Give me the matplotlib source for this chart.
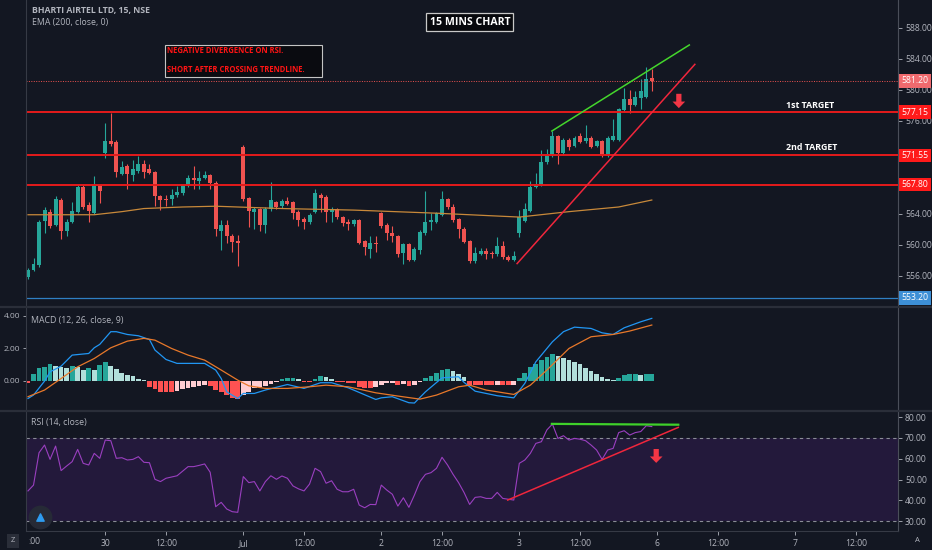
import matplotlib
matplotlib.use("Agg")
import numpy as np
import matplotlib.pyplot as plt
from matplotlib.patches import Rectangle, FancyArrow
from matplotlib.lines import Line2D

plt.rcParams['font.family'] = ['Open Sans', 'DejaVu Sans']

# 15 min candles, 29 Jun 12:00 -> 3 Jul 15:15
opens = [555.9, 556.8, 557.4, 563.1, 564.2, 562.6, 565.8, 561.8, 563.0, 564.3,
         567.5, 565.1, 564.1, 567.7, 571.9, 573.4, 573.3, 569.2, 570.2, 569.0,
         569.5, 570.4, 569.8, 569.4, 566.3, 565.9, 565.9, 566.4, 566.7, 567.7,
         568.6, 568.2, 568.7, 569.0, 568.0, 561.8, 562.6, 561.2, 560.5, 572.7,
         566.0, 564.3, 564.6, 562.6, 564.6, 565.5, 565.0, 565.7, 565.5, 564.3,
         563.4, 562.9, 564.3, 566.5, 566.2, 564.2, 564.6, 563.6, 562.9, 562.7,
         563.2, 560.5, 559.5, 560.3, 564.1, 562.6, 561.6, 561.1, 559.0, 560.1,
         558.1, 559.4, 561.5, 562.9, 563.0, 563.9, 565.9, 564.9, 563.3, 562.1,
         560.5, 557.9, 558.9, 559.2, 558.9, 558.8, 559.9, 558.5, 558.1, 561.6,
         563.1, 564.4, 567.5, 567.8, 570.7, 571.6, 574.0, 571.9, 573.6, 572.8,
         574.0, 573.4, 573.8, 572.8, 573.4, 571.6, 573.6, 573.6, 577.4, 578.8,
         578.1, 579.0, 579.1, 581.5]
highs = [557.0, 558.3, 563.2, 564.9, 564.6, 566.3, 566.0, 563.3, 565.6, 567.7,
         567.8, 565.6, 568.9, 567.9, 575.7, 577.0, 573.6, 570.8, 570.4, 571.0,
         571.5, 571.0, 570.4, 569.6, 566.5, 566.4, 567.2, 567.6, 567.9, 569.0,
         570.2, 569.5, 569.5, 569.2, 568.2, 563.2, 563.2, 561.4, 561.3, 572.9,
         566.2, 564.9, 564.8, 564.9, 568.1, 565.7, 565.9, 566.2, 565.7, 564.5,
         563.6, 564.1, 567.2, 566.7, 566.4, 564.9, 564.8, 563.8, 563.3, 563.4,
         563.4, 560.7, 561.2, 561.2, 564.3, 562.8, 562.4, 561.3, 560.3, 560.3,
         559.7, 561.9, 566.9, 564.1, 564.3, 566.9, 566.1, 565.3, 563.5, 562.3,
         560.7, 559.8, 559.6, 559.6, 559.2, 561.0, 560.5, 558.7, 559.2, 564.5,
         565.4, 568.2, 569.3, 572.3, 572.4, 574.7, 574.2, 573.8, 573.8, 574.0,
         574.4, 575.5, 574.0, 573.6, 573.6, 574.0, 576.2, 577.7, 580.3, 580.0,
         579.8, 581.4, 583.0, 582.7]
lows = [555.6, 556.6, 557.2, 561.5, 562.2, 562.4, 560.8, 561.1, 562.8, 564.1,
        564.6, 563.0, 564.0, 565.4, 571.2, 572.8, 568.8, 569.0, 567.2, 568.2,
        569.3, 568.6, 569.1, 565.0, 564.5, 565.0, 565.1, 566.2, 566.5, 567.5,
        567.2, 567.2, 568.5, 567.2, 561.2, 559.3, 560.2, 559.1, 557.3, 565.7,
        562.3, 562.0, 561.8, 561.6, 564.4, 564.6, 564.8, 565.1, 563.4, 562.5,
        562.0, 562.7, 564.1, 564.2, 563.0, 563.0, 563.3, 562.5, 561.9, 562.5,
        560.1, 558.7, 558.3, 559.1, 562.2, 560.6, 560.4, 558.4, 557.6, 557.9,
        557.9, 558.9, 561.3, 561.9, 562.8, 563.7, 564.7, 563.0, 560.9, 560.2,
        557.7, 557.7, 558.7, 558.2, 558.3, 558.6, 558.2, 557.9, 557.9, 561.0,
        562.9, 564.2, 567.3, 567.6, 570.5, 571.4, 570.5, 571.7, 572.2, 572.6,
        573.1, 573.2, 572.5, 572.6, 571.4, 571.4, 573.4, 573.4, 577.2, 577.0,
        577.9, 577.5, 578.9, 579.8]
closes = [556.8, 557.5, 563.0, 564.5, 562.5, 565.9, 561.8, 563.0, 564.4, 567.5,
          564.9, 564.4, 567.7, 566.9, 573.4, 573.0, 569.4, 570.1, 569.2, 569.8,
          570.4, 569.4, 569.3, 566.3, 565.8, 565.8, 566.4, 566.8, 567.7, 568.6,
          568.4, 568.7, 569.0, 568.0, 562.0, 562.6, 561.1, 560.4, 560.2, 565.9,
          564.4, 564.7, 562.6, 564.7, 565.8, 564.9, 565.7, 565.3, 564.1, 563.2,
          562.9, 563.9, 566.7, 566.1, 564.2, 564.7, 563.6, 562.8, 562.7, 563.2,
          560.3, 559.8, 560.2, 560.1, 562.4, 561.5, 561.1, 558.9, 560.1, 558.1,
          559.5, 561.7, 562.9, 563.2, 564.1, 565.9, 564.9, 563.2, 562.0, 560.4,
          557.9, 559.0, 559.2, 558.8, 558.8, 559.9, 558.4, 558.1, 558.6, 563.6,
          564.6, 567.5, 567.9, 570.7, 571.5, 574.0, 571.9, 573.6, 572.6, 573.8,
          573.3, 573.8, 572.7, 573.4, 571.6, 573.8, 574.0, 577.5, 578.8, 578.1,
          579.1, 579.8, 581.4, 581.2]

ema_idx = [0, 12, 17, 21, 28, 34, 46, 59, 74, 89, 98, 107, 113]
ema_val = [563.9, 563.9, 564.3, 564.7, 564.9, 565.0, 564.7, 564.5, 564.1, 563.6, 564.3, 564.9, 565.8]

levels = [577.15, 571.55, 567.80]
last_price = 581.20
support = 553.20
price_ticks = [556, 560, 564, 576, 580, 584, 588]

macd_idx = [0, 1, 3, 4, 6, 8, 11, 12, 13, 15, 16, 18, 20, 22, 23, 25, 27, 32, 34, 35,
            36, 38, 39, 41, 43, 47, 50, 53, 55, 58, 63, 64, 66, 69, 70, 72, 75, 78, 79, 81,
            85, 88, 90, 92, 95, 97, 99, 102, 104, 106, 108, 111, 113]
macd_val = [-1.09, -0.88, -0.02, 0.55, 0.90, 1.58, 1.68, 2.03, 2.24, 3.02, 3.02, 2.85, 2.77, 2.54, 1.89,
            1.31, 1.07, 1.07, 0.66, 0.14, -0.68, -1.09, -0.78, -0.78, -0.57, -0.23, -0.47, -0.12, -0.12,
            -0.43, -1.15, -1.05, -0.98, -1.35, -1.37, -0.68, 0.18, 0.25, -0.10, -0.64, -0.92, -1.05,
            -0.16, 1.17, 2.40, 3.02, 3.30, 3.22, 2.95, 2.85, 3.26, 3.63, 3.84]
sig_idx = [0, 3, 6, 9, 12, 15, 18, 21, 23, 26, 29, 32, 35, 38, 40, 43, 47, 51, 54, 58,
           63, 67, 71, 74, 78, 80, 83, 88, 91, 94, 98, 102, 106, 109, 113]
sig_val = [-0.98, -0.57, 0.14, 0.86, 1.37, 2.03, 2.44, 2.61, 2.50, 1.99, 1.58, 1.27, 0.66, 0.04,
           -0.31, -0.47, -0.47, -0.37, -0.27, -0.37, -0.74, -0.94, -1.13, -0.88, -0.37, -0.27,
           -0.57, -0.84, -0.27, 0.66, 1.99, 2.71, 2.85, 3.06, 3.43]
hist = [-0.12, 0.41, 0.76, 0.86, 1.05, 0.90, 0.84, 0.80, 0.94, 0.86,
        0.68, 0.76, 0.68, 0.96, 1.13, 0.90, 0.72, 0.49, 0.35, 0.29,
        0.14, 0.06, -0.37, -0.53, -0.68, -0.72, -0.72, -0.64, -0.51, -0.43,
        -0.37, -0.31, -0.27, -0.33, -0.57, -0.72, -0.88, -1.03, -1.15, -0.88,
        -0.68, -0.47, -0.41, -0.31, -0.18, -0.06, 0.10, 0.18, 0.19, 0.10,
        -0.06, -0.08, 0.14, 0.29, 0.21, 0.10, -0.06, -0.10, -0.12, -0.15,
        -0.37, -0.43, -0.47, -0.41, -0.23, -0.16, -0.12, -0.23, -0.22, -0.31,
        -0.23, -0.06, 0.18, 0.31, 0.45, 0.64, 0.72, 0.59, 0.41, 0.21,
        -0.23, -0.27, -0.27, -0.27, -0.29, -0.27, -0.28, -0.28, -0.26, 0.18,
        0.45, 0.86, 1.03, 1.27, 1.48, 1.62, 1.54, 1.42, 1.27, 1.17,
        1.01, 0.80, 0.62, 0.41, 0.21, 0.10, 0.04, 0.18, 0.35, 0.39,
        0.40, 0.35, 0.41, 0.42]

rsi = [44.5, 47.3, 62.9, 66.6, 59.7, 66.1, 54.3, 56.5, 58.6, 64.5,
       57.8, 57.0, 62.6, 60.2, 69.0, 68.7, 60.2, 60.5, 59.4, 59.7,
       61.0, 58.3, 58.1, 50.1, 49.0, 50.6, 51.2, 51.8, 54.0, 56.2,
       56.2, 56.8, 57.5, 53.5, 36.9, 39.0, 35.8, 34.5, 34.2, 51.4,
       48.5, 49.0, 44.5, 49.0, 51.8, 50.1, 51.7, 50.6, 46.9, 45.5,
       44.5, 47.8, 55.4, 53.8, 48.2, 49.4, 45.3, 44.1, 44.1, 45.3,
       37.7, 36.4, 38.0, 37.9, 47.3, 44.9, 42.9, 37.2, 41.2, 36.6,
       42.5, 49.0, 52.5, 53.3, 55.4, 60.7, 57.0, 52.5, 48.5, 43.7,
       38.0, 41.4, 41.7, 40.9, 40.9, 43.8, 40.9, 40.5, 40.1, 57.8,
       59.4, 62.6, 67.4, 68.2, 73.9, 76.7, 69.8, 71.1, 69.0, 69.8,
       69.4, 68.7, 66.6, 64.2, 59.7, 64.2, 65.0, 72.6, 73.5, 71.4,
       72.6, 73.1, 75.9, 75.5]
rsi_ticks = [30, 40, 50, 60, 70, 80]

# drawn trendlines (bar index, value)
price_red_x, price_red_y = [88.6, 120.8], [557.6, 583.3]
price_green_x, price_green_y = [94.9, 119.8], [574.7, 585.8]
rsi_red_x, rsi_red_y = [86.9, 117.8], [40.1, 75.1]
rsi_green_x, rsi_green_y = [94.9, 117.8], [76.8, 76.4]

time_pos = [14, 25, 39, 50, 64, 75, 89, 100, 114, 125, 139, 150]
time_lbl = ['30', '12:00', 'Jul', '12:00', '2', '12:00', '3', '12:00', '6', '12:00', '7', '12:00']

BG = '#131722'
TXT = '#b2b5be'
TEAL = '#26a69a'
RED = '#ef5350'
LINE_RED = '#e41b1b'
SPINE = '#363a45'

fig = plt.figure(figsize=(9.32, 5.5), dpi=100, facecolor=BG)
L, W = 26 / 932, 872 / 932
ax = fig.add_axes([L, 1 - 307 / 550, W, 307 / 550])
axm = fig.add_axes([L, 1 - 411 / 550, W, 104 / 550])
axr = fig.add_axes([L, 1 - 531 / 550, W, 120 / 550])

xlim = (-0.36, 157.6)
for a in (ax, axm, axr):
    a.set_facecolor(BG)
    a.set_xlim(*xlim)
    for s in a.spines.values():
        s.set_visible(False)
    a.spines['left'].set_visible(True)
    a.spines['right'].set_visible(True)
    a.spines['left'].set_color(SPINE)
    a.spines['right'].set_color('#4a4e59')
    a.spines['left'].set_linewidth(0.8)
    a.spines['right'].set_linewidth(0.8)
    a.tick_params(axis='x', bottom=False, labelbottom=False)

# ---- price pane ----
o, h, l, c = map(np.array, (opens, highs, lows, closes))
x = np.arange(len(c))
col = np.where(c >= o, TEAL, RED)
ax.vlines(x, l, h, colors=col, linewidth=0.8)
ax.bar(x, np.maximum(np.abs(c - o), 0.12), bottom=np.minimum(o, c), width=0.72,
       color=col, linewidth=0)
ax.plot(ema_idx, ema_val, color='#c8893a', lw=0.9)

for lv in levels:
    ax.axhline(lv, color=LINE_RED, lw=1.4)
ax.axhline(last_price, color=RED, lw=0.7, ls=(0, (1, 1.5)))
ax.axhline(support, color='#2f7fc4', lw=0.9)

ax.plot(price_red_x, price_red_y, color='#f0263c', lw=1.1)
ax.plot(price_green_x, price_green_y, color='#44d62c', lw=1.1)
ax.add_patch(FancyArrow(117.9, 579.5, 0, -1.0, width=0.95, head_width=2.3,
                        head_length=0.85, length_includes_head=False,
                        color='#f23645', lw=0))

ax.set_ylim(552.0, 591.6)
ax.yaxis.tick_right()
ax.set_yticks(price_ticks)
ax.set_yticklabels([f"{p:.2f}" for p in price_ticks])
ax.tick_params(axis='y', colors=TXT, labelsize=6.2, length=3, width=0.6, pad=2)

yt = ax.get_yaxis_transform()
for p, fc in [(last_price, '#f06a6e'), (levels[0], '#ff1a1a'), (levels[1], '#ff1a1a'),
              (levels[2], '#ff1a1a'), (support, '#3d8fd6')]:
    ax.text(1.004, p, f"{p:.2f}", transform=yt, ha='left', va='center', fontsize=6.2,
            color='white', bbox=dict(boxstyle='square,pad=0.28', fc=fc, ec='none'),
            clip_on=False)

ax.text(0.007, 0.967, 'BHARTI AIRTEL LTD, 15, NSE', transform=ax.transAxes,
        fontsize=6.3, color=TXT, va='center', fontweight='bold')
ax.text(0.007, 0.928, 'EMA (200, close, 0)', transform=ax.transAxes,
        fontsize=6.3, color=TXT, va='center')
ax.text(0.509, 0.928, '15 MINS CHART', transform=ax.transAxes, ha='center', va='center',
        fontsize=7.6, color='white', fontweight='bold',
        bbox=dict(boxstyle='square,pad=0.3', fc='#07080c', ec='#c8c8c8', lw=0.9))
ax.add_patch(Rectangle((0.1594, 0.749), 0.180, 0.104, transform=ax.transAxes,
                       fc='#0a0b10', ec='#c4c4c4', lw=0.8))
ax.text(0.1617, 0.834, 'NEGATIVE DIVERGENCE ON RSI.', transform=ax.transAxes,
        fontsize=5.5, color='#ff1414', va='center', fontweight='bold')
ax.text(0.1617, 0.775, 'SHORT AFTER CROSSING TRENDLINE.', transform=ax.transAxes,
        fontsize=5.5, color='#ff1414', va='center', fontweight='bold')
ax.text(137.3, 578.05, '1st TARGET', fontsize=6.4, color='white', fontweight='bold', va='center')
ax.text(137.3, 572.6, '2nd TARGET', fontsize=6.4, color='white', fontweight='bold', va='center')

# ---- MACD pane ----
hv = np.array(hist)
prev = np.r_[hv[0], hv[:-1]]
hcol = np.where(hv >= 0, np.where(prev < hv, '#26a69a', '#b2dfdb'),
                np.where(prev < hv, '#ffcdd2', '#ff5252'))
axm.bar(x, hv, width=0.86, color=hcol, linewidth=0)
axm.plot(macd_idx, macd_val, color='#2196f3', lw=0.9)
axm.plot(sig_idx, sig_val, color='#e8782a', lw=0.9)
axm.set_ylim(-1.86, 4.54)
axm.set_yticks([0, 2, 4])
axm.set_yticklabels(['0.00', '2.00', '4.00'])
axm.tick_params(axis='y', colors=TXT, labelsize=6.0, length=2, width=0.6, pad=2)
axm.text(0.0057, 0.875, 'MACD (12, 26, close, 9)', transform=axm.transAxes,
         fontsize=6.3, color=TXT, va='center')

# ---- RSI pane ----
axr.axhspan(30, 70, color='#23193b', lw=0)
axr.axhline(70, color='#8a8d96', lw=0.8, ls=(0, (3, 3)))
axr.axhline(30, color='#8a8d96', lw=0.8, ls=(0, (3, 3)))
axr.plot(x, rsi, color='#9a3fc0', lw=0.8)
axr.plot(rsi_red_x, rsi_red_y, color='#f0263c', lw=1.1)
axr.plot(rsi_green_x, rsi_green_y, color='#3fd12a', lw=1.6)
axr.add_patch(FancyArrow(113.8, 64.7, 0, -3.6, width=0.95, head_width=2.3,
                         head_length=3.1, color='#f23645', lw=0))
axr.set_ylim(25.2, 83.0)
axr.yaxis.tick_right()
axr.set_yticks(rsi_ticks)
axr.set_yticklabels([f"{v:.2f}" for v in rsi_ticks])
axr.tick_params(axis='y', colors=TXT, labelsize=6.2, length=3, width=0.6, pad=2)
axr.text(0.0057, 0.9, 'RSI (14, close)', transform=axr.transAxes,
         fontsize=6.3, color=TXT, va='center')
axr.scatter([0.016], [0.12], s=260, color='#262a36', transform=axr.transAxes, zorder=5)
axr.scatter([0.016], [0.12], s=28, marker='^', color='#2e9cf0', transform=axr.transAxes, zorder=6)

axr.spines['bottom'].set_visible(True)
axr.spines['bottom'].set_color(SPINE)
axr.set_xticks(time_pos)
axr.set_xticklabels(time_lbl)
axr.tick_params(axis='x', bottom=True, labelbottom=True, colors=TXT, labelsize=6.2,
                length=3, width=0.6, pad=2.5)
axr.text(0.0, -10 / 120, ':00', transform=axr.get_xaxis_transform(), ha='left', va='center',
         fontsize=6.2, color=TXT)

# pane separators and corner buttons
for yy in (307, 411):
    fig.add_artist(Line2D([0, 1], [1 - yy / 550] * 2, color='#2a2e39', lw=1.6,
                          transform=fig.transFigure))
fig.text(13 / 932, 1 - 541 / 550, 'Z', fontsize=5.5, color=TXT, ha='center', va='center',
         bbox=dict(boxstyle='square,pad=0.45', fc='#2a2e39', ec='none'))
fig.text(917 / 932, 1 - 541 / 550, 'A', fontsize=5.5, color=TXT, ha='center', va='center')

fig.savefig('out.png', dpi=100, facecolor=BG)
